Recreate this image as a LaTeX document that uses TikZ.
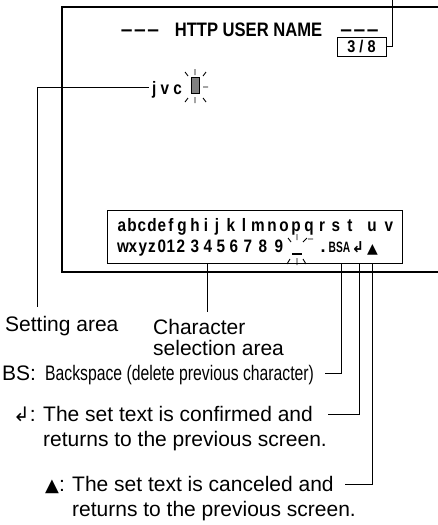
\documentclass[tikz,border=0pt]{standalone}
\usepackage{fontspec}
\setmainfont{Liberation Sans}
\newfontfamily\symfont{DejaVu Sans}
\usepackage{graphicx}
\newcommand{\cond}[1]{\scalebox{0.85}[1]{#1}}
\begin{document}
\begin{tikzpicture}[x=1pt,y=-1pt,
  scr/.style={font=\fontsize{18}{18}\selectfont\bfseries, inner sep=0pt},
  lbl/.style={font=\fontsize{21}{21}\selectfont, inner sep=0pt, anchor=base west},
  call/.style={line width=0.9pt},
  frame/.style={line width=1.8pt},
  ray/.style={line width=0.9pt}]
\useasboundingbox (0,0) rectangle (438,525);

% screen frame
\draw[frame] (445,7) -| (62,272) -- (445,272);

% title
\node[scr, anchor=base, font=\fontsize{21}{21}\selectfont\bfseries] (dl) at (140,36) {–\hspace{1.5pt}–\hspace{1.5pt}–};
\node[scr, anchor=base, font=\fontsize{19.5}{19.5}\selectfont\bfseries] (title) at (248.5,36) {\cond{HTTP USER NAME}};
\node[scr, anchor=base, font=\fontsize{21}{21}\selectfont\bfseries] (dr) at (359.5,36) {–\hspace{1.5pt}–\hspace{1.5pt}–};
\node[draw, line width=1pt, minimum width=49pt, minimum height=19pt, inner sep=0pt,
      font=\fontsize{17}{17}\selectfont\bfseries] (page) at (361.5,46.5) {\cond{3 / 8}};
\coordinate (pgTop) at (392,-3);
\draw[call] (page.east) -| (pgTop);

% setting area
\node[scr, anchor=base west] (jvc) at (152,94) {\cond{j v c}};
\node[draw, fill=gray, minimum width=8pt, minimum height=16pt, inner sep=0pt, line width=0.8pt] (cur) at (195,85) {};
\draw[ray] (195,69) -- (195,75) (185,72) -- (188,76) (206,72) -- (203,76)
  (203,87) -- (208,87) (195,97) -- (195,103) (185,102) -- (188,98) (206,102) -- (203,98);
\coordinate (setStart) at (149,87);
\coordinate (setEnd) at (37,307);
\draw[call] (setStart) -| (setEnd);

% character selection area
\node[draw, line width=0.8pt, minimum width=295pt, minimum height=53pt, inner sep=0pt] (charbox) at (254.5,236.5) {};
\foreach \c/\x [count=\i] in {a/122,b/132,c/142,d/152,e/162,f/171,g/182,h/195,i/206,j/217,k/231,l/244,m/258,n/272,o/284,p/296,q/309,r/322,s/336,t/350,u/372,v/389}
  \node[scr, anchor=base] (ra\i) at (\x,231) {\cond{\c}};
\foreach \c/\x [count=\i] in {w/123,x/133,y/143,z/152,0/162,1/171,2/181,3/195,4/208,5/221,6/234,7/248,8/263,9/279}
  \node[scr, anchor=base] (rb\i) at (\x,252) {\cond{\c}};
\coordinate (ucen) at (297,248);
\draw[line width=1.3pt] (292,254) -- (302,254);
\draw[ray] (297,234) -- (297,240) (288,238) -- (291,242) (307,238) -- (303,242)
  (308,239) -- (313,239) (297,258) -- (297,265) (287,264) -- (290,259) (306,264) -- (303,259);
\node[scr, anchor=base] (dot) at (323,252) {.};
\node[inner sep=0pt, anchor=base, font=\fontsize{15}{15}\selectfont\bfseries] (bsa) at (339.5,252) {\scalebox{0.68}[1]{BSA}};
\node[inner sep=0pt, anchor=base, font=\fontsize{15}{15}\selectfont\symfont\bfseries] (ent) at (358,252) {↲};
\node[inner sep=0pt, anchor=base, font=\fontsize{14}{14}\selectfont\symfont] (tri) at (372.5,253) {▲};

% callouts
\coordinate (csTop) at (207,263);
\coordinate (csEnd) at (207,312);
\draw[call] (csTop) -- (csEnd);
\coordinate (bsTop) at (341,263);
\coordinate (bsEnd) at (325,373);
\draw[call] (bsTop) |- (bsEnd);
\coordinate (entTop) at (359,263);
\coordinate (entEnd) at (328,414);
\draw[call] (entTop) |- (entEnd);
\coordinate (triTop) at (372,263);
\coordinate (triEnd) at (345,484);
\draw[call] (triTop) |- (triEnd);

% legend
\node[lbl] (setting) at (5,331) {Setting area};
\node[lbl] (char1) at (153,334) {Character};
\node[lbl] (char2) at (153,355) {selection area};
\node[lbl] (bsk) at (2,380) {BS:};
\node[lbl] (bsd) at (45,380) {\scalebox{0.75}[1]{Backspace (delete previous character)}};
\node[lbl] (entsym) at (13,421) {{\symfont\fontsize{20}{20}\selectfont ↲}:};
\node[lbl] (ent1) at (43,421) {The set text is confirmed and};
\node[lbl] (ent2) at (43,446) {returns to the previous screen.};
\node[lbl] (trisym) at (45,491) {{\symfont\fontsize{18}{18}\selectfont ▲}:};
\node[lbl] (tri1) at (72,491) {The set text is canceled and};
\node[lbl] (tri2) at (72,516) {returns to the previous screen.};
\end{tikzpicture}
\end{document}
